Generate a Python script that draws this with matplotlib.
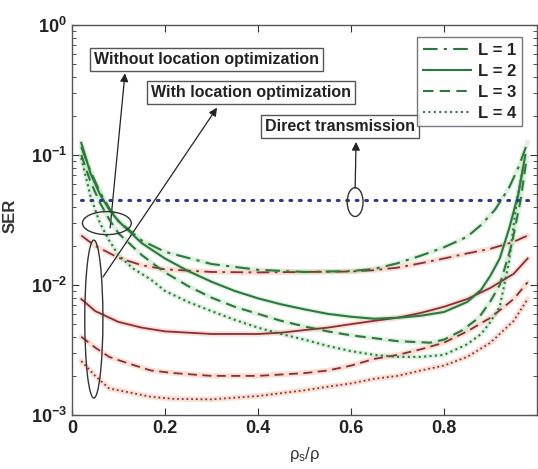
import matplotlib
matplotlib.use("Agg")
import matplotlib.pyplot as plt
from matplotlib.patches import Ellipse

plt.rcParams['font.family'] = ['Liberation Sans', 'DejaVu Sans']
plt.rcParams['mathtext.default'] = 'regular'

# SER versus power split rho_s/rho, L = 1..4 relays
# Without location optimization
x_g1 = [0.02, 0.04, 0.06, 0.08, 0.10, 0.15, 0.20, 0.30, 0.40, 0.50, 0.60, 0.65, 0.70, 0.75, 0.80, 0.85, 0.88, 0.91, 0.94, 0.96, 0.98]
y_g1 = [0.115, 0.075, 0.052, 0.039, 0.031, 0.022, 0.018, 0.0145, 0.0131, 0.0126, 0.0128, 0.0133, 0.0147, 0.0168, 0.0195, 0.0235, 0.029, 0.038, 0.056, 0.08, 0.125]

x_g2 = [0.02, 0.04, 0.06, 0.08, 0.10, 0.15, 0.20, 0.25, 0.30, 0.35, 0.40, 0.45, 0.50, 0.55, 0.60, 0.65, 0.70, 0.75, 0.80, 0.85, 0.88, 0.90, 0.92, 0.94, 0.96, 0.975]
y_g2 = [0.124, 0.072, 0.050, 0.038, 0.031, 0.021, 0.0160, 0.0128, 0.0106, 0.0090, 0.0079, 0.0071, 0.0065, 0.0060, 0.0057, 0.0055, 0.0056, 0.0058, 0.0062, 0.0074, 0.0092, 0.0118, 0.016, 0.027, 0.050, 0.10]

x_g3 = [0.02, 0.04, 0.06, 0.08, 0.10, 0.15, 0.20, 0.25, 0.30, 0.35, 0.40, 0.45, 0.50, 0.55, 0.60, 0.65, 0.70, 0.77, 0.80, 0.84, 0.875, 0.90, 0.92, 0.945, 0.965, 0.978]
y_g3 = [0.10, 0.062, 0.043, 0.032, 0.025, 0.017, 0.0125, 0.0098, 0.0080, 0.0068, 0.0060, 0.0053, 0.0048, 0.0044, 0.0041, 0.0039, 0.0037, 0.0036, 0.0038, 0.0045, 0.0056, 0.0075, 0.010, 0.020, 0.045, 0.095]

x_g4 = [0.02, 0.04, 0.06, 0.08, 0.10, 0.13, 0.17, 0.20, 0.25, 0.30, 0.35, 0.40, 0.45, 0.50, 0.55, 0.60, 0.65, 0.70, 0.75, 0.80, 0.85, 0.88, 0.90, 0.92, 0.94, 0.955, 0.97]
y_g4 = [0.095, 0.048, 0.030, 0.022, 0.017, 0.0135, 0.0110, 0.0090, 0.0074, 0.0063, 0.0054, 0.0047, 0.0042, 0.0038, 0.0034, 0.0031, 0.0029, 0.0028, 0.0028, 0.0029, 0.0035, 0.0042, 0.0052, 0.0068, 0.015, 0.040, 0.080]

# With location optimization
x_r1 = [0.02, 0.05, 0.10, 0.15, 0.20, 0.30, 0.40, 0.50, 0.60, 0.65, 0.70, 0.75, 0.80, 0.85, 0.90, 0.95, 0.98]
y_r1 = [0.024, 0.020, 0.0162, 0.0142, 0.0132, 0.0126, 0.0125, 0.0126, 0.0127, 0.0130, 0.0136, 0.0147, 0.0160, 0.0175, 0.0190, 0.0215, 0.024]

x_r2 = [0.02, 0.05, 0.10, 0.15, 0.20, 0.25, 0.30, 0.35, 0.40, 0.45, 0.50, 0.55, 0.60, 0.65, 0.70, 0.75, 0.80, 0.85, 0.90, 0.95, 0.98]
y_r2 = [0.0078, 0.0063, 0.0052, 0.0047, 0.0044, 0.0043, 0.0042, 0.0042, 0.0042, 0.0043, 0.0045, 0.0047, 0.0050, 0.0053, 0.0056, 0.0061, 0.0068, 0.0078, 0.0095, 0.0122, 0.0160]

x_r3 = [0.02, 0.05, 0.08, 0.12, 0.17, 0.22, 0.30, 0.40, 0.50, 0.55, 0.60, 0.65, 0.70, 0.75, 0.80, 0.85, 0.90, 0.95, 0.98]
y_r3 = [0.0040, 0.0033, 0.0028, 0.0025, 0.0022, 0.0021, 0.0020, 0.0020, 0.0021, 0.0022, 0.0024, 0.0027, 0.0029, 0.0032, 0.0036, 0.0044, 0.0056, 0.0078, 0.0105]

x_r4 = [0.02, 0.05, 0.08, 0.12, 0.17, 0.22, 0.30, 0.40, 0.50, 0.55, 0.60, 0.65, 0.70, 0.75, 0.80, 0.85, 0.90, 0.95, 0.98]
y_r4 = [0.0026, 0.0020, 0.0016, 0.0015, 0.00138, 0.00133, 0.00132, 0.00140, 0.00155, 0.00165, 0.00175, 0.0019, 0.0020, 0.0022, 0.0024, 0.0028, 0.0036, 0.0053, 0.0078]

# Direct transmission
x_direct = [0.02, 0.98]
y_direct = [0.045, 0.045]

legend_labels = ["L = 1", "L = 2", "L = 3", "L = 4"]
x_ticks = [0, 0.2, 0.4, 0.6, 0.8]
x_tick_labels = ["0", "0.2", "0.4", "0.6", "0.8"]

GREEN = "#2a7a3c"
GREEN_HALO = "#a8d8a8"
RED = "#8a2c3e"
RED_HALO = "#f6c2a8"

styles = [(0, (7, 3, 1.5, 3)), "-", (0, (5, 3)), (0, (1, 1.6))]

fig = plt.figure(figsize=(5.38, 4.69), dpi=100)
ax = fig.add_axes([0.1338, 0.1151, 0.8642, 0.8316])
ax.set_yscale("log")

greens = [(x_g1, y_g1), (x_g2, y_g2), (x_g3, y_g3), (x_g4, y_g4)]
reds = [(x_r1, y_r1), (x_r2, y_r2), (x_r3, y_r3), (x_r4, y_r4)]

for (xs, ys), ls in zip(reds, styles):
    ax.plot(xs, ys, color=RED_HALO, lw=4.0, alpha=0.5, solid_capstyle="round", zorder=2)
    ax.plot(xs, ys, color=RED, lw=1.3, ls=ls, zorder=3)

handles = []
for (xs, ys), ls, lab in zip(greens, styles, legend_labels):
    ax.plot(xs, ys, color=GREEN_HALO, lw=3.5, alpha=0.35, zorder=2)
    h, = ax.plot(xs, ys, color=GREEN, lw=1.5, ls=ls, label=lab, zorder=4)
    handles.append(h)

ax.plot(x_direct, y_direct, color="#2b3a8c", lw=2.2, ls=(0, (0.6, 2.5)),
        dash_capstyle="round", zorder=4)

ax.set_xlim(0, 1)
ax.set_ylim(1e-3, 1)
ax.set_xticks(x_ticks)
ax.set_xticklabels(x_tick_labels)
ax.tick_params(which="both", direction="in", top=True, right=True,
               labelsize=13, colors="#333333")
ax.tick_params(which="major", length=5)
ax.tick_params(which="minor", length=3)
for s in ax.spines.values():
    s.set_color("#555555")
    s.set_linewidth(1.0)
for lbl in ax.get_xticklabels() + ax.get_yticklabels():
    lbl.set_fontweight("bold")
    lbl.set_color("#222222")

ax.set_ylabel("SER", fontsize=12, fontweight="bold", color="#333333")
ax.yaxis.set_label_coords(-0.118, 0.51)
ax.set_xlabel(r"$\rho_s/\rho$", fontsize=12, color="#333333", labelpad=6)

leg = ax.legend(handles=handles, loc="upper right", bbox_to_anchor=(0.985, 0.99),
                fontsize=12, frameon=True, fancybox=False, handlelength=2.9,
                handletextpad=0.4, borderpad=0.35, labelspacing=0.35)
leg.get_frame().set_edgecolor("#555555")
leg.get_frame().set_linewidth(1.0)
for t in leg.get_texts():
    t.set_fontweight("bold")
    t.set_color("#222222")

box = dict(boxstyle="square,pad=0.25", fc="white", ec="#555555", lw=1.0)
ax.text(0.289, 0.9115, "Without location optimization", transform=ax.transAxes,
        ha="center", va="center", fontsize=11.5, fontweight="bold", color="#222222", bbox=box)
ax.text(0.385, 0.826, "With location optimization", transform=ax.transAxes,
        ha="center", va="center", fontsize=11.5, fontweight="bold", color="#222222", bbox=box)
ax.text(0.577, 0.740, "Direct transmission", transform=ax.transAxes,
        ha="center", va="center", fontsize=11.5, fontweight="bold", color="#222222", bbox=box)

arrow = dict(arrowstyle="-|>", color="#222222", lw=0.9, mutation_scale=12,
             shrinkA=0, shrinkB=0)
ax.annotate("", xy=(0.114, 0.876), xytext=(0.082, 0.4795),
            xycoords="axes fraction", textcoords="axes fraction", arrowprops=arrow)
ax.annotate("", xy=(0.312, 0.788), xytext=(0.0667, 0.354),
            xycoords="axes fraction", textcoords="axes fraction", arrowprops=arrow)
ax.annotate("", xy=(0.611, 0.700), xytext=(0.609, 0.582),
            xycoords="axes fraction", textcoords="axes fraction", arrowprops=arrow)

for cx, cy, w, h in [(0.075, 0.492, 0.105, 0.059),
                     (0.047, 0.246, 0.039, 0.405),
                     (0.609, 0.546, 0.034, 0.074)]:
    ax.add_patch(Ellipse((cx, cy), w, h, transform=ax.transAxes, fill=False,
                         ec="#333333", lw=1.0, zorder=6))

fig.savefig("out.png", dpi=100)
